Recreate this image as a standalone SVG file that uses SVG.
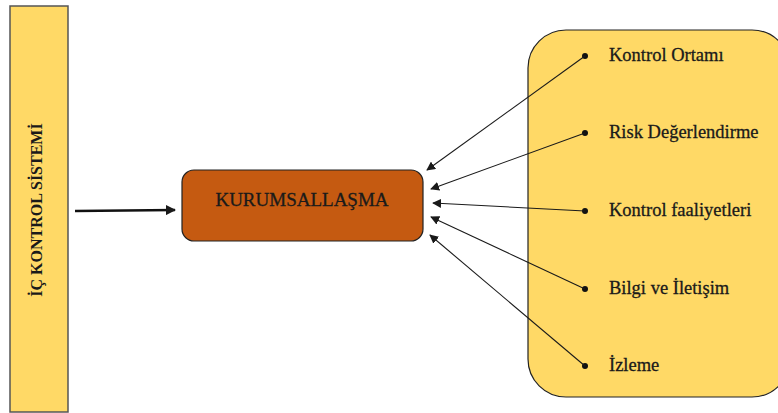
<svg xmlns="http://www.w3.org/2000/svg" width="778" height="413" viewBox="0 0 778 413">
<style>
.t{font-family:'Liberation Serif','DejaVu Serif','Times New Roman',Times,serif;fill:#1a1a1a}
.item{font-size:18.5px;stroke:#1a1a1a;stroke-width:0.3}
.c{stroke:#1a1a1a;stroke-width:1.1;fill:none}
</style>
<defs>
<marker id="ah" viewBox="0 0 10 10" refX="9" refY="5" markerWidth="9" markerHeight="9" markerUnits="userSpaceOnUse" orient="auto">
<path d="M0,0 L10,5 L0,10 Z" fill="#1a1a1a"/>
</marker>
<marker id="ahb" viewBox="0 0 10 10" refX="9" refY="5" markerWidth="4" markerHeight="4" orient="auto">
<path d="M0,0 L10,5 L0,10 Z" fill="#1a1a1a"/>
</marker>
</defs>
<rect width="778" height="413" fill="#fff"/>
<g id="ic-kontrol">
<rect x="10" y="6" width="58" height="406" fill="#FFD966" stroke="#555" stroke-width="1.5"/>
<text class="t" transform="translate(42,210) rotate(-90)" text-anchor="middle" font-size="16" font-weight="bold">İÇ KONTROL SİSTEMİ</text>
</g>
<g id="kurumsallasma">
<rect x="182" y="170" width="241" height="71" rx="12" fill="#C55A11" stroke="#222" stroke-width="1.2"/>
<text class="t" x="302" y="206" text-anchor="middle" font-size="19" stroke="#1a1a1a" stroke-width="0.3">KURUMSALLAŞMA</text>
</g>
<g id="bilesenler">
<rect x="528" y="30" width="262" height="367" rx="38" fill="#FFD966" stroke="#222" stroke-width="1.2"/>
<g fill="#111">
<circle cx="585" cy="56" r="3"/>
<circle cx="585" cy="133" r="3"/>
<circle cx="585" cy="211" r="3"/>
<circle cx="585" cy="289" r="3"/>
<circle cx="585" cy="366" r="3"/>
</g>
<text class="t item" x="609" y="61">Kontrol Ortamı</text>
<text class="t item" x="609" y="138">Risk Değerlendirme</text>
<text class="t item" x="609" y="216">Kontrol faaliyetleri</text>
<text class="t item" x="609" y="294">Bilgi ve İletişim</text>
<text class="t item" x="609" y="371">İzleme</text>
</g>
<g id="connectors">
<line x1="75" y1="211" x2="175" y2="210" stroke="#111" stroke-width="2.6" marker-end="url(#ahb)"/>
<line class="c" x1="585" y1="56" x2="427" y2="170" marker-end="url(#ah)"/>
<line class="c" x1="585" y1="133" x2="431" y2="189" marker-end="url(#ah)"/>
<line class="c" x1="585" y1="211" x2="433" y2="203" marker-end="url(#ah)"/>
<line class="c" x1="585" y1="289" x2="431" y2="217" marker-end="url(#ah)"/>
<line class="c" x1="585" y1="366" x2="430" y2="235" marker-end="url(#ah)"/>
</g>
</svg>
